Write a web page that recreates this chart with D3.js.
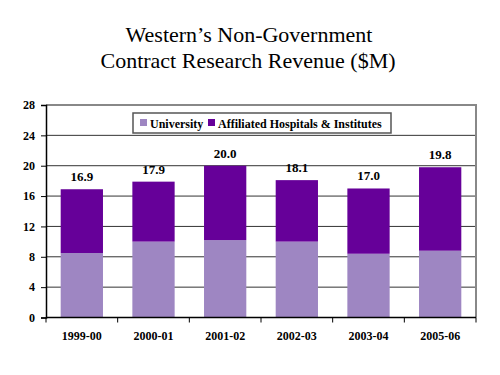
<!DOCTYPE html>
<html><head><meta charset="utf-8">
<script src="https://cdn.jsdelivr.net/npm/d3@7"></script>
<style>body{margin:0;background:#fff}</style>
</head><body>
<svg id="c" width="500" height="375"></svg>
<script>
const categories = ["1999-00","2000-01","2001-02","2002-03","2003-04","2005-06"];
const university = [8.5, 10.0, 10.2, 10.0, 8.4, 8.8];
const affiliated = [8.4, 7.9, 9.8, 8.1, 8.6, 11.0];
const totals = [16.9, 17.9, 20.0, 18.1, 17.0, 19.8];
const yTicks = [0,4,8,12,16,20,24,28];
const seriesNames = ["University","Affiliated Hospitals & Institutes"];
const colors = ["#9e86c2","#660099"];

const svg = d3.select("#c");
const font = "'Liberation Serif','Times New Roman',serif";
const L = 46, R = 476, T = 105, B = 317.5;

svg.append("text").attr("x",249).attr("y",42).attr("text-anchor","middle")
  .attr("font-family",font).attr("font-size",22).text("Western’s Non-Government");
svg.append("text").attr("x",248).attr("y",68).attr("text-anchor","middle")
  .attr("font-family",font).attr("font-size",22).text("Contract Research Revenue ($M)");

const x = d3.scaleBand().domain(categories).range([L,R]).paddingInner(0.41).paddingOuter(0.205);
const y = d3.scaleLinear().domain([0,28]).range([B,T]);

// gridlines
svg.append("g").selectAll("line").data(yTicks.filter(d=>d>0 && d<28)).join("line")
  .attr("x1",L).attr("x2",R).attr("y1",d=>y(d)).attr("y2",d=>y(d))
  .attr("stroke","#333").attr("stroke-width",1);
// frame top/right
svg.append("path").attr("d",`M${L},${T}H${R}V${B}`).attr("fill","none").attr("stroke","#888").attr("stroke-width",2);

const stack = d3.stack().keys([0,1]).value((d,k)=>d[k]);
const rows = categories.map((c,i)=>[university[i], affiliated[i]]);
const layers = stack(rows);
layers.forEach((layer,k)=>{
  svg.append("g").selectAll("rect").data(layer).join("rect")
    .attr("x",(d,i)=>x(categories[i])).attr("width",x.bandwidth())
    .attr("y",d=>y(d[1])).attr("height",d=>y(d[0])-y(d[1]))
    .attr("fill",colors[k]);
});

// total labels
svg.append("g").selectAll("text").data(totals).join("text")
  .attr("x",(d,i)=>x(categories[i])+x.bandwidth()/2)
  .attr("y",(d,i)=>y(d)-8).attr("text-anchor","middle")
  .attr("font-family",font).attr("font-size",13).attr("font-weight","bold")
  .text(d=>d.toFixed(1));

// y axis
const ya = d3.axisLeft(y).tickValues(yTicks).tickSize(5).tickPadding(6).tickFormat(d3.format("d"));
const yg = svg.append("g").attr("transform",`translate(${L},0)`).call(ya);
yg.select(".domain").attr("stroke","#000").attr("stroke-width",1.5);
yg.selectAll("line").attr("stroke","#000");
yg.selectAll("text").attr("font-family",font).attr("font-size",12).attr("font-weight","bold").attr("fill","#000");

// x axis
const xg = svg.append("g").attr("transform",`translate(0,${B})`);
xg.append("line").attr("x1",L).attr("x2",R).attr("stroke","#000").attr("stroke-width",1.5);
xg.selectAll("line.t").data(d3.range(0,categories.length+1)).join("line").attr("class","t")
  .attr("x1",i=>L+i*(R-L)/categories.length).attr("x2",i=>L+i*(R-L)/categories.length)
  .attr("y1",0).attr("y2",5).attr("stroke","#000");
xg.selectAll("text").data(categories).join("text")
  .attr("x",d=>x(d)+x.bandwidth()/2).attr("y",22).attr("text-anchor","middle")
  .attr("font-family",font).attr("font-size",12).attr("font-weight","bold").text(d=>d);

// legend
const lg = svg.append("g");
lg.append("rect").attr("x",133).attr("y",113).attr("width",258).attr("height",20)
  .attr("fill","#fff").attr("stroke","#555").attr("stroke-width",1.5);
const lx = [140, 208];
seriesNames.forEach((n,k)=>{
  lg.append("rect").attr("x",lx[k]).attr("y",119).attr("width",7).attr("height",7).attr("fill",colors[k]);
  lg.append("text").attr("x",lx[k]+10).attr("y",127.5).attr("font-family",font).attr("font-size",12)
    .attr("font-weight","bold").text(n);
});
</script>
</body></html>
